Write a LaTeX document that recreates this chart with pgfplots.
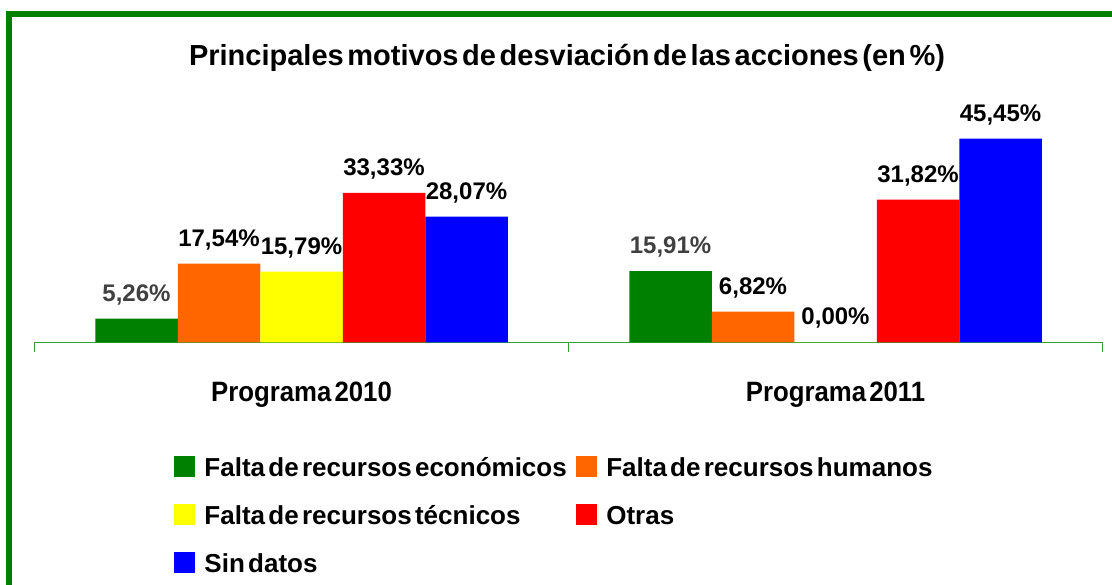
\documentclass[border=0pt]{standalone}
\usepackage{fontspec}
\setmainfont{Liberation Sans}[WordSpace=0.45]
\newfontfamily\condfont{Liberation Sans}[FakeStretch=0.92, WordSpace=0.45]
\usepackage{pgfplots}
\pgfplotsset{compat=1.18}

\definecolor{cgreen}{RGB}{0,128,0}
\definecolor{corange}{RGB}{255,102,0}
\definecolor{cyellow}{RGB}{255,255,0}
\definecolor{cred}{RGB}{255,0,0}
\definecolor{cblue}{RGB}{0,0,255}
\definecolor{axgreen}{RGB}{51,160,51}
\definecolor{labgray}{RGB}{64,64,64}

\begin{document}
\begin{tikzpicture}
\useasboundingbox (0,0) rectangle (556pt,292pt);
\draw[cgreen, line width=3pt] (4.5pt,285pt) rectangle (620pt,-40pt);

\node[anchor=base, font=\bfseries\fontsize{14.5}{14.5}\selectfont]
  at (283.5pt,259.15pt) {Principales motivos de desviación de las acciones (en \%)};

\begin{axis}[
  at={(17.25pt,120.85pt)}, anchor=south west,
  scale only axis, width=534pt, height=112pt,
  xmin=-0.5, xmax=1.5, ymin=0, ymax=50,
  clip=false,
  ybar=0pt, bar width=41.25pt,
  hide y axis,
  axis x line=bottom,
  x axis line style={draw=axgreen, line width=0.7pt, -},
  xtick={-0.5,0.5,1.5}, xticklabels={},
  tick align=outside, major tick length=5pt,
  x tick style={axgreen, line width=0.7pt},
  extra x ticks={0,1},
  extra x tick labels={Programa 2010, Programa 2011},
  extra x tick style={major tick length=0pt,
    tick label style={font=\condfont\bfseries\fontsize{14}{14}\selectfont,
      anchor=base, inner sep=0pt, yshift=-29.7pt}},
  nodes near coords={\pgfmathprintnumber[fixed,fixed zerofill,precision=2,use comma,assume math mode=true]{\pgfplotspointmeta}\%},
  nodes near coords style={font=\bfseries\fontsize{12}{12}\selectfont,
    anchor=base, inner sep=0pt, yshift=8.75pt},
  legend columns=2,
  legend cell align=left,
  legend image code/.code={\fill[#1] (0pt,-5.25pt) rectangle (10.5pt,5.25pt);},
  legend style={draw=none, fill=none, at={(0.1306,-0.5076)}, anchor=north west,
    inner sep=0pt, outer sep=0pt,
    font=\bfseries\fontsize{13}{13}\selectfont,
    nodes={inner sep=0pt, text height=9.5pt, text depth=0pt},
    row sep=13.5pt,
    /tikz/column 1/.style={column sep=4.75pt},
    /tikz/column 2/.style={column sep=4.5pt},
    /tikz/column 3/.style={column sep=4.75pt}},
]
\addplot[fill=cgreen, draw=none, nodes near coords style={text=labgray}]
  coordinates {(0,5.26) (1,15.91)};
\addplot[fill=corange, draw=none] coordinates {(0,17.54) (1,6.82)};
\addplot[fill=cyellow, draw=none] coordinates {(0,15.79) (1,0.00)};
\addplot[fill=cred, draw=none] coordinates {(0,33.33) (1,31.82)};
\addplot[fill=cblue, draw=none] coordinates {(0,28.07) (1,45.45)};
\legend{Falta de recursos económicos, Falta de recursos humanos,
  Falta de recursos técnicos, Otras, Sin datos}
\end{axis}
\end{tikzpicture}
\end{document}
